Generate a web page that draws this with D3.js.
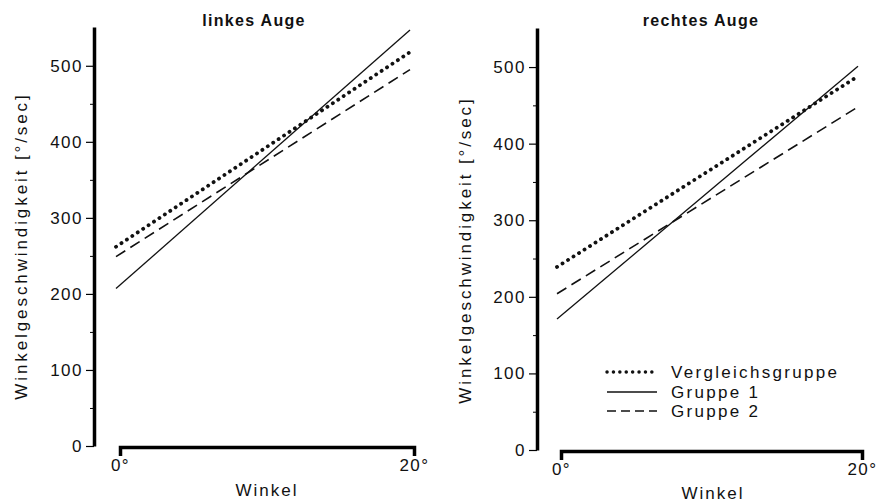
<!DOCTYPE html>
<html>
<head>
<meta charset="utf-8">
<script src="https://cdnjs.cloudflare.com/ajax/libs/d3/7.8.5/d3.min.js"></script>
<style>
  body { margin: 0; background: #fff; }
  text { font-family: "Liberation Sans", Arial, sans-serif; fill: #111; }
  .axis text { font-size: 17px; letter-spacing: 1.5px; }
</style>
</head>
<body>
<div id="chart"></div>
<script>
// data
var angles = [0, 20];
var yTicks = [0, 100, 200, 300, 400, 500];
var yMinor = [50, 150, 250, 350, 450];
var seriesNames = ["Vergleichsgruppe", "Gruppe 1", "Gruppe 2"];
var linksVergleich = [262, 518];
var linksGruppe1 = [207, 547];
var linksGruppe2 = [249, 495];
var rechtsVergleich = [239, 488];
var rechtsGruppe1 = [171, 501];
var rechtsGruppe2 = [204, 448];

var W = 878, H = 503;

var svg = d3.select("#chart").append("svg")
    .attr("width", W)
    .attr("height", H);

// line styles per series
var styles = [
  {width: 3.8, dash: "0.1 6.4", cap: "round"},
  {width: 1.3, dash: null, cap: "butt"},
  {width: 1.6, dash: "11 6", cap: "butt"}
];

function panel(p) {
  var x = d3.scaleLinear().domain([0, 20]).range([p.x0, p.x1]);
  var y = d3.scaleLinear().domain([0, 551]).range([p.yBase, p.yTop]);

  var g = svg.append("g");

  // title
  g.append("text")
      .attr("x", p.titleX)
      .attr("y", 26)
      .attr("text-anchor", "middle")
      .style("font-weight", "bold")
      .style("font-size", "16px")
      .style("letter-spacing", "1.3px")
      .text(p.title);

  // y axis
  var ya = g.append("g")
      .attr("class", "axis")
      .attr("transform", "translate(" + p.axisX + ",0)")
      .call(d3.axisLeft(y).tickValues(yTicks).tickSize(8).tickSizeOuter(0).tickPadding(3));
  ya.select(".domain").attr("stroke-width", 3.5);
  ya.selectAll(".tick line").attr("stroke-width", 1.2);

  g.append("g")
      .attr("transform", "translate(" + p.axisX + ",0)")
      .call(d3.axisLeft(y).tickValues(yMinor).tickSize(4).tickFormat(""))
      .call(function(s) { s.select(".domain").remove(); });

  // x axis
  var xa = g.append("g")
      .attr("class", "axis")
      .attr("transform", "translate(" + p.xShift + "," + (p.yBase + 1) + ")")
      .call(d3.axisBottom(x).tickValues(angles).tickSize(9).tickPadding(3)
        .tickFormat(function(d) { return d + "°"; }));
  xa.select(".domain").attr("stroke-width", 3.5);
  xa.selectAll(".tick line").attr("stroke-width", 2);

  // axis titles
  g.append("text")
      .attr("transform", "translate(" + p.labelX + "," + p.labelY + ") rotate(-90)")
      .attr("text-anchor", "middle")
      .style("font-size", "17px")
      .style("letter-spacing", "2.9px")
      .text("Winkelgeschwindigkeit [°/sec]");

  g.append("text")
      .attr("x", p.winkelX)
      .attr("y", p.winkelY)
      .attr("text-anchor", "middle")
      .style("font-size", "17px")
      .style("letter-spacing", "2px")
      .text("Winkel");

  // regression lines
  var line = d3.line()
      .x(function(d, i) { return x(angles[i]); })
      .y(function(d) { return y(d); });

  p.series.forEach(function(s, i) {
    g.append("path")
        .datum(s)
        .attr("d", line)
        .attr("fill", "none")
        .attr("stroke", "#111")
        .attr("stroke-width", styles[i].width)
        .attr("stroke-dasharray", styles[i].dash)
        .attr("stroke-linecap", styles[i].cap);
  });
  return g;
}

panel({
  title: "linkes Auge", titleX: 254,
  x0: 116, x1: 410, xShift: 4,
  yBase: 446, yTop: 27, axisX: 94,
  labelX: 27, labelY: 246,
  winkelX: 267, winkelY: 496,
  series: [linksVergleich, linksGruppe1, linksGruppe2]
});

var right = panel({
  title: "rechtes Auge", titleX: 701,
  x0: 557, x1: 858, xShift: 4,
  yBase: 450, yTop: 28, axisX: 537,
  labelX: 471, labelY: 250,
  winkelX: 713, winkelY: 499,
  series: [rechtsVergleich, rechtsGruppe1, rechtsGruppe2]
});

// legend
var leg = right.append("g").attr("transform", "translate(605,372)");
seriesNames.forEach(function(name, i) {
  var row = leg.append("g").attr("transform", "translate(0," + [0, 20, 39][i] + ")");
  row.append("line")
      .attr("x1", 2).attr("x2", 52)
      .attr("stroke", "#111")
      .attr("stroke-width", styles[i].width * (i === 0 ? 0.9 : 1))
      .attr("stroke-dasharray", i === 0 ? "0.1 6.3" : (i === 2 ? "9 5" : null))
      .attr("stroke-linecap", styles[i].cap);
  row.append("text")
      .attr("x", 66)
      .attr("y", 6)
      .style("font-size", "17px")
      .style("letter-spacing", "2.3px")
      .text(name);
});
</script>
</body>
</html>
